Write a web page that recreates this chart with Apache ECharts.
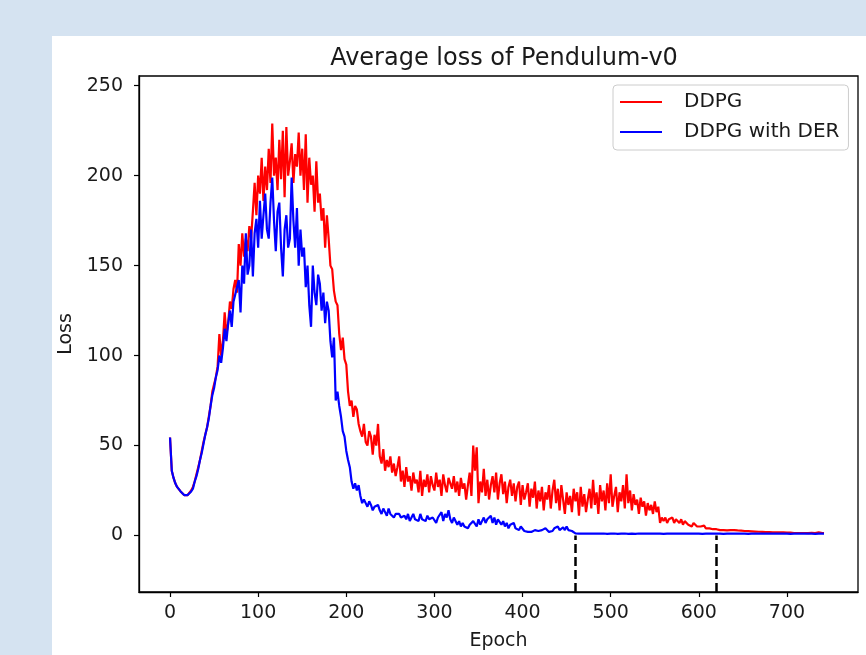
<!DOCTYPE html>
<html>
<head>
<meta charset="utf-8">
<script src="https://cdn.jsdelivr.net/npm/echarts@6/dist/echarts.min.js"></script>
<style>
    html, body { margin: 0; padding: 0; width: 866px; height: 655px; background: #d5e3f1; overflow: hidden; }
    #chart { position: absolute; left: 52px; top: 36px; width: 814px; height: 619px; background: #fff; }
</style>
</head>
<body>
<div id="chart"></div>
<script>
// one value every 2 epochs
const epochStep = 2;

const ddpgLoss = [
    54.5, 36, 32, 29, 27, 26, 24.5, 23.5, 22.5, 22,
    22.5, 23, 25, 27, 30, 34, 38, 42, 47, 52,
    56, 60, 66, 72, 80, 84, 88, 94, 112, 100,
    108, 124, 112, 118, 130, 126, 137, 142, 135, 162,
    150, 168, 155, 165, 158, 172, 165, 180, 196, 178,
    200, 190, 210, 186, 205, 192, 215, 196, 229, 200,
    210, 192, 220, 198, 225, 188, 227, 200, 208, 218,
    196, 212, 205, 224, 200, 215, 192, 223, 185, 210,
    195, 200, 180, 208, 185, 190, 175, 182, 160, 178,
    165, 150, 148, 136, 130, 128, 112, 103, 110, 98,
    95, 80, 72, 75, 66, 72, 70, 62, 58, 55,
    62, 52, 50, 58, 55, 45, 56, 50, 62, 44,
    40, 48, 36, 42, 38, 44, 35, 40, 33, 38,
    44, 30, 36, 27, 38, 30, 33, 25, 35, 29,
    31, 24, 36, 22, 31, 27, 34, 24, 33, 28,
    25, 35, 27, 31, 22, 34, 28, 24, 32, 29,
    26, 33, 24, 30, 22, 32, 26, 29, 20, 28,
    35, 22, 50, 36, 49, 18, 30, 24, 37, 22,
    31, 20, 28, 33, 24, 35, 20, 29, 34, 23,
    30, 18, 27, 31, 22, 29, 19, 27, 30, 17,
    28, 20, 24, 29, 16, 26, 21, 30, 15, 25,
    19, 27, 14, 24, 20, 28, 15, 25, 31, 18,
    26, 14, 28, 20, 12, 24, 17, 22, 13, 26,
    19, 24, 11, 27, 16, 23, 13, 20, 26, 15,
    31, 17, 24, 12, 28, 19, 25, 14, 29, 18,
    34, 16, 22, 27, 13, 24, 19, 28, 15, 34,
    18, 25, 14, 23, 17, 20, 12, 21, 16, 19,
    11, 18, 14, 17, 12, 19, 13, 16, 7, 10,
    8, 10, 7, 9, 8, 10, 7, 9, 8, 7,
    9, 6, 8, 7, 6, 7, 5, 7, 6, 5,
    6, 5, 4.5, 5.5, 4, 5, 4, 4.5, 3.5, 4,
    3.5, 4, 3, 3.5, 3, 3.4, 2.8, 3.2, 3, 2.7,
    3, 2.6, 2.8, 2.5, 2.7, 2.3, 2.5, 2.2, 2.4, 2.1,
    2.3, 2.0, 2.2, 2.0, 2.1, 1.9, 2.0, 1.8, 1.9, 1.8,
    1.9, 1.7, 1.8, 1.7, 1.8, 1.6, 1.7, 1.6, 1.7, 1.5,
    1.6, 1.5, 1.6, 1.5, 1.4, 1.6, 1.4, 1.5, 1.4, 1.5,
    1.4, 1.5, 1.3, 1.4, 1.5, 1.3, 1.4, 1.3, 1.8, 1.3,
    1.4, 1.3
];

const derLoss = [
    54.5, 36, 32, 29, 27, 26, 24.5, 23.5, 22.5, 22,
    22.5, 23, 24.5, 26, 30, 33, 37, 42, 46, 51,
    56, 60, 65, 72, 78, 82, 88, 92, 100, 96,
    104, 115, 108, 118, 125, 116, 130, 134, 138, 142,
    124, 150, 140, 168, 145, 150, 170, 144, 168, 176,
    160, 186, 165, 178, 190, 170, 165, 185, 199, 175,
    158, 180, 185, 160, 144, 170, 178, 160, 165, 199,
    175, 160, 182, 150, 170, 155, 160, 138, 150, 128,
    116, 150, 135, 128, 145, 140, 125, 135, 118, 130,
    125, 108, 99, 110, 75, 80, 72, 66, 58, 55,
    47, 42, 38, 30, 26, 29, 25, 28, 22, 18,
    20, 18, 16, 19, 17, 14, 16, 15, 17, 14,
    12, 15, 13, 11, 15, 12, 13, 10, 12, 11,
    12, 10, 9, 11, 9, 12, 8, 10, 12, 9,
    10, 8, 12, 9, 10, 8, 11, 9, 8, 10,
    11, 7, 10, 9, 13, 8, 12, 10, 14, 9,
    7, 10, 9, 6, 8, 5, 7, 5, 6, 4,
    6, 5, 8, 7, 5, 9, 6, 8, 10, 7,
    9, 8, 11, 7, 10, 6, 9, 8, 6, 8,
    5, 7, 4, 6, 5, 7, 4, 5, 3, 5,
    4, 2.5, 3, 2, 3, 2, 2.5, 3, 2, 2.5,
    2, 3, 2.5, 4, 3, 2, 3, 2.5, 4, 3,
    5, 3, 4, 4.5, 3, 5, 3, 4, 2.5, 3,
    1.2, 1.0, 1.1, 1.0, 1.0, 1.1, 1.0, 0.9, 1.0, 1.0,
    1.1, 1.0, 1.0, 0.9, 1.0, 1.0, 1.1, 1.0, 0.9, 1.0,
    1.0, 1.0, 1.1, 1.0, 0.9, 1.0, 1.0, 1.0, 1.1, 1.0,
    0.9, 1.0, 1.0, 1.0, 0.9, 1.0, 1.1, 1.0, 1.0, 0.9,
    1.0, 1.0, 1.0, 0.9, 1.0, 1.0, 1.0, 1.1, 1.0, 1.0,
    0.9, 1.0, 1.0, 1.0, 1.0, 0.9, 1.0, 1.0, 1.0, 1.0,
    1.0, 0.9, 1.0, 1.0, 1.0, 1.0, 1.0, 0.9, 1.0, 1.0,
    1.0, 1.0, 0.9, 1.0, 1.0, 1.0, 1.0, 1.0, 1.0, 0.9,
    1.0, 1.0, 1.0, 1.0, 0.9, 1.0, 1.0, 1.0, 1.0, 1.0,
    1.0, 0.9, 1.0, 1.0, 1.0, 1.0, 1.0, 1.0, 0.9, 1.0,
    1.0, 1.0, 1.0, 0.9, 1.0, 1.0, 1.0, 1.0, 1.0, 1.0,
    1.0, 1.0, 1.0, 1.0, 1.0, 0.9, 1.0, 1.0, 1.0, 1.0,
    1.0, 1.0, 0.9, 1.0, 1.0, 1.0, 1.0, 1.0, 1.0, 1.0,
    1.0, 1.0, 1.0, 1.0, 1.0, 1.0, 0.9, 1.0, 1.0, 1.0,
    1.0, 1.0
];

const xTicks = [0, 100, 200, 300, 400, 500, 600, 700];
const yTicks = [0, 50, 100, 150, 200, 250];
// epochs where the dashed markers stand
const markEpochs = [460, 620];

const xMin = -35.2, xMax = 780.6;
const yMin = -31.4, yMax = 255.4;

const toPairs = (arr) => arr.map((v, i) => [i * epochStep, v]);

const font = 'DejaVu Sans';
const textColor = '#1a1a1a';

const chart = echarts.init(document.getElementById('chart'));

const option = {
    animation: false,
    title: {
        text: 'Average loss of Pendulum-v0',
        left: 447,
        top: 6,
        textAlign: 'center',
        textStyle: { fontFamily: font, fontSize: 24, fontWeight: 'normal', color: textColor }
    },
    legend: {
        orient: 'vertical',
        left: 561,
        top: 49,
        data: ['DDPG', 'DDPG with DER'],
        icon: 'rect',
        itemWidth: 42,
        itemHeight: 2,
        itemGap: 10,
        padding: [7, 9, 8, 7],
        borderColor: '#cccccc',
        borderWidth: 1,
        borderRadius: 4,
        textStyle: { fontFamily: font, fontSize: 20, color: textColor, padding: [0, 0, 0, 17] }
    },
    grid: {
        left: 87,
        top: 40,
        right: 8,
        bottom: 63,
        outerBoundsMode: 'none',
        show: true,
        borderColor: '#000',
        borderWidth: 1.3
    },
    xAxis: {
        type: 'value',
        min: xMin,
        max: xMax,
        name: 'Epoch',
        nameLocation: 'middle',
        nameGap: 40,
        nameTextStyle: { fontFamily: font, fontSize: 19, color: textColor },
        axisLine: { show: true, onZero: false, lineStyle: { color: '#000', width: 1.3 } },
        axisTick: { show: true, customValues: xTicks, length: 5, lineStyle: { color: '#000', width: 1.2 } },
        axisLabel: { customValues: xTicks, fontFamily: font, fontSize: 19, color: textColor, margin: 12 },
        splitLine: { show: false }
    },
    yAxis: {
        type: 'value',
        min: yMin,
        max: yMax,
        name: 'Loss',
        nameLocation: 'middle',
        nameGap: 59,
        nameTextStyle: { fontFamily: font, fontSize: 19, color: textColor },
        axisLine: { show: true, onZero: false, lineStyle: { color: '#000', width: 1.3 } },
        axisTick: { show: true, customValues: yTicks, length: 5, lineStyle: { color: '#000', width: 1.2 } },
        axisLabel: { customValues: yTicks, fontFamily: font, fontSize: 19, color: textColor, margin: 16 },
        splitLine: { show: false }
    },
    series: [
        {
            name: 'DDPG',
            type: 'line',
            data: toPairs(ddpgLoss),
            showSymbol: false,
            color: '#ff0000',
            lineStyle: { color: '#ff0000', width: 2.2 },
            z: 2
        },
        {
            name: 'DDPG with DER',
            type: 'line',
            data: toPairs(derLoss),
            showSymbol: false,
            color: '#0000ff',
            lineStyle: { color: '#0000ff', width: 2.2 },
            z: 3,
            markLine: {
                silent: true,
                symbol: 'none',
                label: { show: false },
                lineStyle: { color: '#000', width: 2.5, type: [9, 4] },
                data: markEpochs.map(e => [{ coord: [e, yMin] }, { coord: [e, 0] }])
            }
        }
    ]
};

chart.setOption(option);
</script>
</body>
</html>
